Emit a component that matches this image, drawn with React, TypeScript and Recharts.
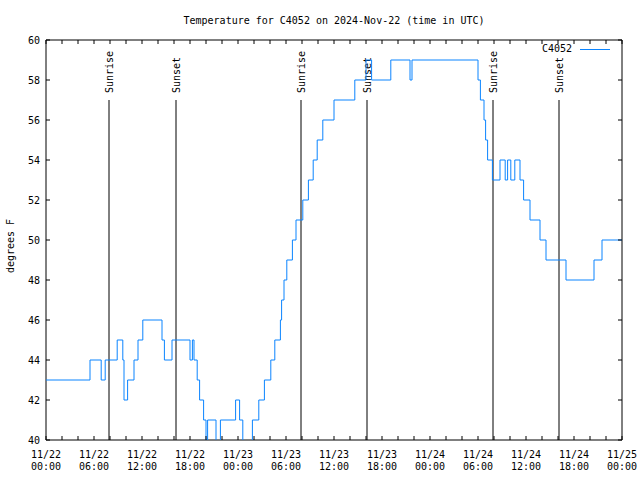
import React from "react";
import {
  LineChart,
  Line,
  XAxis,
  YAxis,
  ReferenceLine,
  ReferenceArea,
  Legend,
} from "recharts";

// hours since 2024-11-22 00:00 UTC where the reading changes, and the new reading (°F)
const HOURS = [
  0, 5.5, 6.9, 7.4, 8.9, 9.6, 9.75, 10.2, 11.0, 11.5, 12.1, 14.5, 14.8, 15.75, 18.0, 18.3, 18.5, 18.9,
  19.2, 19.7, 20.0, 20.2, 21.25, 21.8, 23.7, 24.2, 24.6, 25.8, 26.6, 27.3, 28.1, 28.6, 29.3, 29.45,
  29.75, 30.1, 30.8, 31.25, 32.1, 32.8, 33.4, 33.9, 34.6, 36.0, 38.6, 40.0, 40.7, 43.1, 45.5, 45.75,
  54.0, 54.3, 54.75, 54.95, 55.2, 55.8, 56.75, 57.4, 57.7, 58.1, 58.6, 59.25, 59.7, 60.5, 61.75,
  62.5, 65.0, 68.5, 69.5, 72,
];
const TEMPS = [
  43, 44, 43, 44, 45, 44, 42, 43, 44, 45, 46, 45, 44, 45, 44, 45, 44, 43,
  42, 41, 39, 41, 39, 41, 42, 41, 39, 41, 42, 43, 44, 45, 46, 47,
  48, 49, 50, 51, 52, 53, 54, 55, 56, 57, 58, 59, 58, 59, 58, 59,
  58, 57, 56, 55, 54, 53, 54, 53, 54, 53, 54, 53, 52, 51, 50,
  49, 48, 49, 50, 50,
];

const X_TICKS = [0, 2, 4, 6, 8, 10, 12, 14, 16, 18, 20, 22, 24, 26, 28, 30, 32, 34, 36, 38, 40, 42, 44, 46, 48, 50, 52, 54, 56, 58, 60, 62, 64, 66, 68, 70, 72];
const X_DATES = ["11/22", "11/22", "11/22", "11/22", "11/23", "11/23", "11/23", "11/23", "11/24", "11/24", "11/24", "11/24", "11/25"];
const X_TIMES = ["00:00", "06:00", "12:00", "18:00", "00:00", "06:00", "12:00", "18:00", "00:00", "06:00", "12:00", "18:00", "00:00"];
const Y_TICKS = [40, 42, 44, 46, 48, 50, 52, 54, 56, 58, 60];

const SUN_HOURS = [7.875, 16.25, 31.875, 40.125, 55.875, 64.125];
const SUN_LABELS = ["Sunrise", "Sunset", "Sunrise", "Sunset", "Sunrise", "Sunset"];
const SUN_TOP = 57;

const TITLE = "Temperature for C4052 on 2024-Nov-22 (time in UTC)";
const SERIES = "C4052";

const FONT = "'DejaVu Sans Mono', monospace";
const BLUE = "#0a84ff";
const W = 640;
const H = 480;
const M = { top: 40, right: 18, bottom: 10, left: 6 };
const Y_W = 40;
const X_H = 30;
const PLOT_L = M.left + Y_W;
const PLOT_R = W - M.right;
const PLOT_T = M.top;
const PLOT_B = H - M.bottom - X_H;
const TICK = 4;

const data = HOURS.map((h, i) => ({ h, t: TEMPS[i] }));

function XTick({ x, payload }: any) {
  const v = payload.value as number;
  const idx = v % 6 === 0 ? v / 6 : -1;
  return (
    <g>
      <line x1={x} x2={x} y1={PLOT_B} y2={PLOT_B - TICK} stroke="#000" />
      <line x1={x} x2={x} y1={PLOT_T} y2={PLOT_T + TICK} stroke="#000" />
      {idx >= 0 && (
        <text x={x} y={PLOT_B + 18} textAnchor="middle" fontSize={10} fontFamily={FONT} fill="#000">
          <tspan x={x}>{X_DATES[idx]}</tspan>
          <tspan x={x} dy={12}>{X_TIMES[idx]}</tspan>
        </text>
      )}
    </g>
  );
}

function YTick({ y, payload }: any) {
  return (
    <g>
      <line x1={PLOT_L} x2={PLOT_L + TICK} y1={y} y2={y} stroke="#000" />
      <line x1={PLOT_R} x2={PLOT_R - TICK} y1={y} y2={y} stroke="#000" />
      <text x={PLOT_L - 6} y={y + 4} textAnchor="end" fontSize={10} fontFamily={FONT} fill="#000">
        {payload.value}
      </text>
    </g>
  );
}

function YTitle({ viewBox }: any) {
  const cx = 10;
  const cy = viewBox.y + viewBox.height / 2 + 6;
  return (
    <text
      x={cx}
      y={cy}
      transform={`rotate(-90, ${cx}, ${cy})`}
      textAnchor="middle"
      dominantBaseline="central"
      fontSize={10}
      fontFamily={FONT}
      fill="#000"
    >
      degrees F
    </text>
  );
}

function SunLabel({ viewBox, text }: any) {
  const x = viewBox.x + 4;
  const y = viewBox.y - 7;
  return (
    <text x={x} y={y} transform={`rotate(-90, ${x}, ${y})`} textAnchor="start" fontSize={10} fontFamily={FONT} fill="#000">
      {text}
    </text>
  );
}

function LegendBox() {
  return (
    <div style={{ display: "flex", alignItems: "center", fontFamily: FONT, fontSize: 10, lineHeight: "12px", color: "#000" }}>
      <span>{SERIES}</span>
      <svg width={30} height={12} style={{ marginLeft: 8 }}>
        <line x1={0} x2={30} y1={6.5} y2={6.5} stroke={BLUE} strokeWidth={1} />
      </svg>
    </div>
  );
}

export default function App() {
  return (
    <div style={{ position: "absolute", left: 0, top: 0, width: W, height: H, background: "#fff" }}>
      <LineChart width={W} height={H} data={data} margin={M}>
        <XAxis
          dataKey="h"
          type="number"
          domain={[0, 72]}
          ticks={X_TICKS}
          interval={0}
          height={X_H}
          axisLine={false}
          tickLine={false}
          tick={<XTick />}
        />
        <YAxis
          type="number"
          domain={[40, 60]}
          allowDataOverflow
          ticks={Y_TICKS}
          interval={0}
          width={Y_W}
          axisLine={false}
          tickLine={false}
          tick={<YTick />}
          label={<YTitle />}
        />
        <ReferenceArea
          x1={0}
          x2={72}
          y1={40}
          y2={60}
          fill="none"
          fillOpacity={0}
          stroke="#000"
          strokeWidth={1}
          label={{ value: TITLE, position: "top", offset: 16, fontSize: 10, fontFamily: FONT, fill: "#000" }}
        />
        {SUN_HOURS.map((h, i) => (
          <ReferenceLine
            key={i}
            segment={[
              { x: h, y: SUN_TOP },
              { x: h, y: 40 },
            ]}
            stroke="#000"
            strokeWidth={1}
            label={<SunLabel text={SUN_LABELS[i]} />}
          />
        ))}
        <Line
          type="stepAfter"
          dataKey="t"
          name={SERIES}
          stroke={BLUE}
          strokeWidth={1}
          dot={false}
          isAnimationActive={false}
        />
        <Legend
          layout="horizontal"
          verticalAlign="middle"
          align="center"
          wrapperStyle={{ top: 43, right: 30, left: "auto", width: "auto", height: "auto" }}
          content={<LegendBox />}
        />
      </LineChart>
    </div>
  );
}
